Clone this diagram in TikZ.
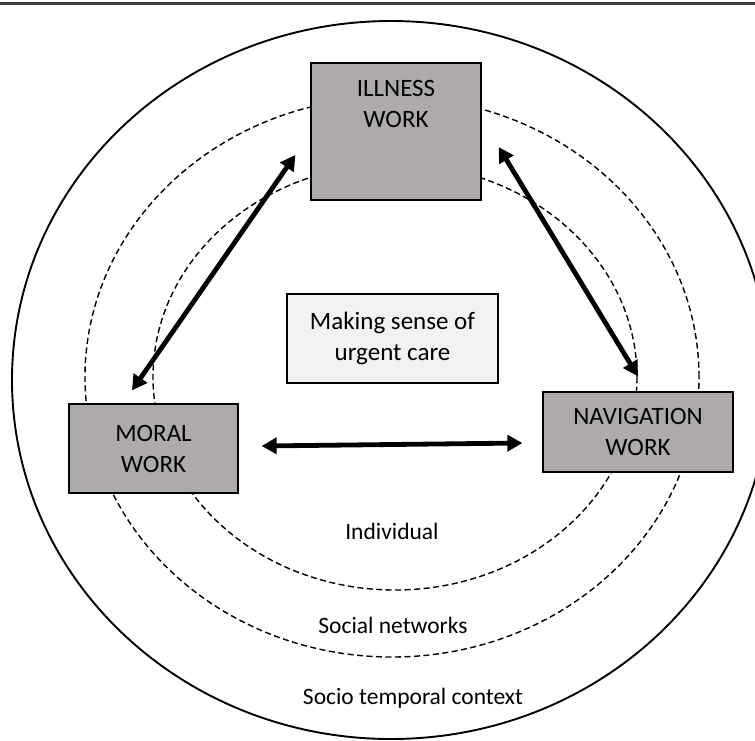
\documentclass[tikz,border=0pt]{standalone}
\usepackage{fontspec}
\setmainfont{Carlito}
\usetikzlibrary{arrows.meta,calc}
\definecolor{boxgray}{RGB}{174,170,170}
\definecolor{lightbox}{RGB}{242,242,242}
\begin{document}
\begin{tikzpicture}[x=1pt,y=-1pt,
  box/.style={draw=black, line width=1.3pt, fill=boxgray, font=\fontsize{25}{31}\selectfont, align=center, inner sep=0pt},
  centrebox/.style={draw=black, line width=1.3pt, fill=lightbox, font=\fontsize{25}{31}\selectfont, align=center, inner sep=0pt},
  boxtext/.style={font=\fontsize{25}{31}\selectfont, align=center, inner sep=0pt},
  lab/.style={font=\fontsize{23.5}{28}\selectfont, inner sep=0pt},
  ring/.style={draw=black, line width=1.4pt, dash pattern=on 6pt off 3.5pt},
  dbl/.style={line width=4.8pt, {Triangle[length=15pt,width=16pt]}-{Triangle[length=15pt,width=16pt]}}]
\useasboundingbox (0,0) rectangle (755,740);
\clip (0,0) rectangle (755,740);
% top rule
\draw[line width=2.2pt, black!75] (0,3.5) -- (755,3.5);
% rings
\draw[line width=1.9pt] (391,380) ellipse [x radius=379pt, y radius=359pt];
\draw[ring] (392,377) ellipse [x radius=307pt, y radius=280pt];
\draw[ring] (395,377) ellipse [x radius=242pt, y radius=213pt];
% boxes
\node[box, minimum width=170pt, minimum height=137pt] (ill) at (396,131.5) {};
\node[boxtext] (illtext) at (396,104) {ILLNESS\\WORK};
\node[box, minimum width=169pt, minimum height=89pt] (mor) at (153.5,448.5) {MORAL\\WORK};
\node[box, minimum width=190pt, minimum height=80pt] (nav) at (638,432) {NAVIGATION\\WORK};
\node[centrebox, minimum width=211pt, minimum height=89pt] (sense) at (392.5,338.5) {Making sense of\\urgent care};
% labels
\node[lab] (ind) at (392,531) {Individual};
\node[lab] (soc) at (393,625) {Social networks};
\node[lab] (ctx) at (413,698) {Socio temporal context};
% arrow ends
\coordinate (a1) at ($(mor.north)+(-21.5,-13)$);
\coordinate (a2) at ($(ill.west)+(-15,23.5)$);
\coordinate (b1) at ($(ill.east)+(17,15.5)$);
\coordinate (b2) at ($(nav.north)+(0,-15)$);
\coordinate (c1) at ($(mor.east)+(23,-2.5)$);
\coordinate (c2) at ($(nav.west)+(-20,11)$);
\draw[dbl] (a1) -- (a2);
\draw[dbl] (b1) -- (b2);
\draw[dbl] (c1) -- (c2);
\end{tikzpicture}
\end{document}
